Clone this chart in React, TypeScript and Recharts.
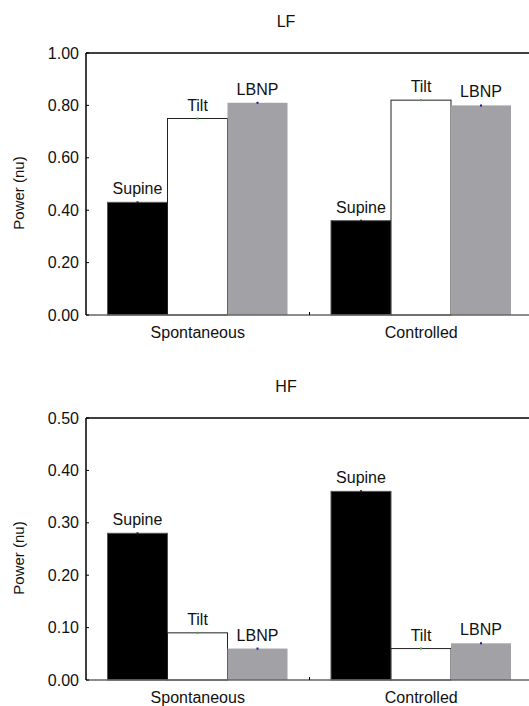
import { Bar, BarChart, LabelList, ReferenceLine, XAxis, YAxis } from 'recharts';

const categories = ['Spontaneous', 'Controlled'];
const conditions = ['Supine', 'Tilt', 'LBNP'];

const lfSupine = [0.43, 0.36];
const lfTilt = [0.75, 0.82];
const lfLbnp = [0.81, 0.8];
const lfTicks = [0, 0.2, 0.4, 0.6, 0.8, 1.0];

const hfSupine = [0.28, 0.36];
const hfTilt = [0.09, 0.06];
const hfLbnp = [0.06, 0.07];
const hfTicks = [0, 0.1, 0.2, 0.3, 0.4, 0.5];

const FONT = '"Liberation Sans", Arial, sans-serif';

const barStyle = [
  { fill: '#000000', stroke: '#555555', marker: '#222222' },
  { fill: '#ffffff', stroke: '#222222', marker: '#3cb043' },
  { fill: '#a2a1a6', stroke: 'none', marker: '#1a1aa0' },
];

function buildRows(supine: number[], tilt: number[], lbnp: number[]) {
  return categories.map((name, i) => ({ name, Supine: supine[i], Tilt: tilt[i], LBNP: lbnp[i] }));
}

function YTick(props: any) {
  const { x, y, payload } = props;
  return (
    <g>
      <text x={x} y={y} dy={5.5} textAnchor="end" fontSize={16} fill="#111" fontFamily={FONT}>
        {Number(payload.value).toFixed(2)}
      </text>
      <line x1={x + 7} x2={x + 10} y1={y} y2={y} stroke="#000" />
    </g>
  );
}

function XTick(props: any) {
  const { x, y, payload, index } = props;
  const off = payload && payload.offset;
  return (
    <g>
      <text x={x} y={y} dy={12} textAnchor="middle" fontSize={16} fill="#111" fontFamily={FONT}>
        {payload.value}
      </text>
      {index === 0 && off ? (
        <line x1={x + off} x2={x + off} y1={y - 11} y2={y - 14} stroke="#000" />
      ) : null}
    </g>
  );
}

function BarShape(props: any) {
  const { x, y, width, height, fill, stroke, marker } = props;
  return (
    <g>
      <rect x={x} y={y} width={width} height={height} fill={fill} stroke={stroke} strokeWidth={1} />
      <line x1={x + width / 2 - 1} x2={x + width / 2 + 1} y1={y} y2={y} stroke={marker} strokeWidth={2} />
    </g>
  );
}

function Panel({ title, data, ticks, top }: { title: string; data: any[]; ticks: number[]; top: number }) {
  const max = ticks[ticks.length - 1];
  return (
    <div style={{ position: 'absolute', left: 0, top, width: 533, height: 345 }}>
      <div
        style={{
          position: 'absolute',
          left: 286,
          top: 22,
          transform: 'translate(-50%, -50%)',
          fontFamily: FONT,
          fontSize: 16,
          color: '#111',
        }}
      >
        {title}
      </div>
      <div
        style={{
          position: 'absolute',
          left: 18,
          top: 193,
          transform: 'translate(-50%, -50%) rotate(-90deg)',
          fontFamily: FONT,
          fontSize: 15,
          color: '#111',
          whiteSpace: 'nowrap',
        }}
      >
        Power (nu)
      </div>
      <BarChart
        width={533}
        height={345}
        data={data}
        margin={{ top: 53, right: 0, bottom: 0, left: 0 }}
        barCategoryGap={21.5}
        barGap={0}
      >
        <XAxis
          dataKey="name"
          height={30}
          tickLine={false}
          tickSize={0}
          tickMargin={11}
          axisLine={{ stroke: '#666', strokeWidth: 1.5 }}
          tick={(p: any) => <XTick {...p} />}
        />
        <YAxis
          width={86}
          domain={[0, max]}
          ticks={ticks}
          tickLine={false}
          tickSize={0}
          tickMargin={7}
          axisLine={{ stroke: '#000', strokeWidth: 1.5 }}
          tick={(p: any) => <YTick {...p} />}
        />
        <ReferenceLine y={max} stroke="#000" strokeWidth={1.5} />
        {conditions.map((c, i) => (
          <Bar
            key={c}
            dataKey={c}
            fill={barStyle[i].fill}
            isAnimationActive={false}
            shape={(p: any) => <BarShape {...p} fill={barStyle[i].fill} stroke={barStyle[i].stroke} marker={barStyle[i].marker} />}
          >
            <LabelList
              dataKey={c}
              position="top"
              offset={8}
              formatter={() => c}
              fontSize={16}
              fill="#111"
              fontFamily={FONT}
            />
          </Bar>
        ))}
      </BarChart>
    </div>
  );
}

export default function App() {
  const lfData = buildRows(lfSupine, lfTilt, lfLbnp);
  const hfData = buildRows(hfSupine, hfTilt, hfLbnp);
  return (
    <div
      style={{
        position: 'absolute',
        left: 0,
        top: 0,
        width: 529,
        height: 706,
        overflow: 'hidden',
        background: '#fff',
      }}
    >
      <Panel title="LF" data={lfData} ticks={lfTicks} top={0} />
      <Panel title="HF" data={hfData} ticks={hfTicks} top={365} />
    </div>
  );
}
